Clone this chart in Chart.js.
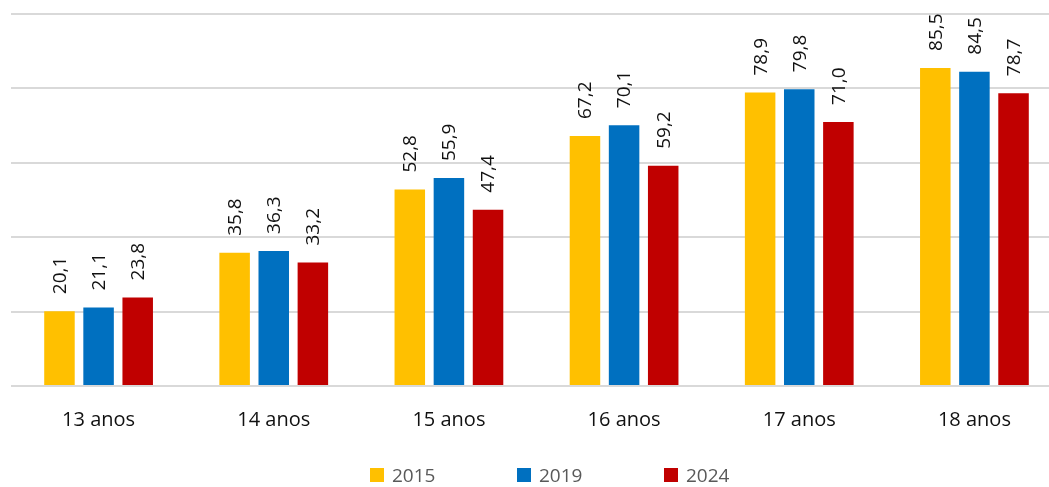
<!DOCTYPE html>
<html>
<head>
<meta charset="utf-8">
<script src="https://cdn.jsdelivr.net/npm/chart.js@4.4.1/dist/chart.umd.min.js"></script>
<style>
  html, body { margin: 0; padding: 0; background: #fff; overflow: hidden; }
  #wrap { position: relative; width: 1049px; height: 487px; overflow: hidden; }
  #box { position: absolute; left: 0; top: 0; width: 1062px; height: 487px; }
  #legend { position: absolute; top: 462px; left: 370px; display: flex; font-family: "Open Sans", sans-serif; font-size: 19px; color: #595959; }
  #legend .item { display: flex; align-items: center; width: 147px; }
  #legend .sw { width: 14px; height: 14px; margin-right: 8px; }
</style>
</head>
<body>
<div id="wrap">
  <div id="box"><canvas id="c"></canvas></div>
  <div id="legend"></div>
</div>
<script>
const categories = ["13 anos", "14 anos", "15 anos", "16 anos", "17 anos", "18 anos"];
const seriesNames = ["2015", "2019", "2024"];
const values2015 = [20.1, 35.8, 52.8, 67.2, 78.9, 85.5];
const values2019 = [21.1, 36.3, 55.9, 70.1, 79.8, 84.5];
const values2024 = [23.8, 33.2, 47.4, 59.2, 71.0, 78.7];
const seriesColors = ["#FFC000", "#0070C0", "#C00000"];
const yTicks = [0, 20, 40, 60, 80, 100];

const allValues = [values2015, values2019, values2024];

// value labels written vertically above each bar, with a decimal comma
const barValueLabels = {
  id: "barValueLabels",
  afterDatasetsDraw(chart) {
    const ctx = chart.ctx;
    ctx.save();
    ctx.font = "19px 'Open Sans', sans-serif";
    ctx.fillStyle = "#111";
    ctx.textAlign = "left";
    ctx.textBaseline = "middle";
    chart.data.datasets.forEach((ds, di) => {
      chart.getDatasetMeta(di).data.forEach((bar, i) => {
        const txt = ds.data[i].toFixed(1).replace(".", ",");
        ctx.save();
        ctx.translate(bar.x + 1, bar.y - 17);
        ctx.rotate(-Math.PI / 2);
        ctx.fillText(txt, 0, 0);
        ctx.restore();
      });
    });
    ctx.restore();
  }
};

new Chart(document.getElementById("c"), {
  type: "bar",
  data: {
    labels: categories,
    datasets: seriesNames.map((name, k) => ({
      label: name,
      data: allValues[k],
      backgroundColor: seriesColors[k],
      borderWidth: 0,
      barPercentage: 0.78,
      categoryPercentage: 0.67
    }))
  },
  options: {
    responsive: true,
    maintainAspectRatio: false,
    animation: false,
    layout: { padding: { left: 11, right: 0, top: 14, bottom: 41 } },
    plugins: { legend: { display: false }, tooltip: { enabled: false } },
    scales: {
      x: {
        grid: { display: false },
        border: { display: false },
        ticks: { color: "#111", font: { family: "'Open Sans', sans-serif", size: 20 }, padding: 14 }
      },
      y: {
        min: yTicks[0],
        max: yTicks[yTicks.length - 1],
        afterBuildTicks(scale) { scale.ticks = yTicks.map(v => ({ value: v })); },
        ticks: { display: false },
        grid: { color: "#d9d9d9", lineWidth: 2, drawTicks: false },
        border: { display: false }
      }
    }
  },
  plugins: [barValueLabels]
});

const leg = document.getElementById("legend");
seriesNames.forEach((name, k) => {
  const it = document.createElement("div");
  it.className = "item";
  const sw = document.createElement("span");
  sw.className = "sw";
  sw.style.background = seriesColors[k];
  const tx = document.createElement("span");
  tx.textContent = name;
  it.appendChild(sw);
  it.appendChild(tx);
  leg.appendChild(it);
});
</script>
</body>
</html>
